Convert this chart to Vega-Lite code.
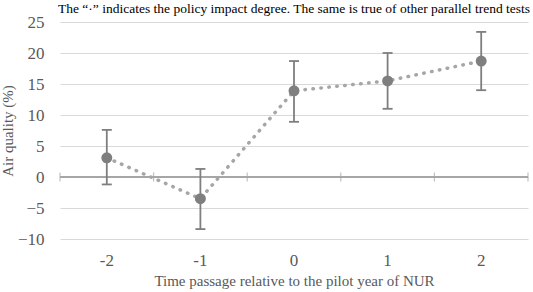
{
  "$schema": "https://vega.github.io/schema/vega-lite/v6.json",
  "autosize": "none",
  "padding": {"left": 60, "top": 22, "right": 5, "bottom": 53},
  "width": 468,
  "height": 217,
  "background": "white",
  "title": {
    "text": "The “·” indicates the policy impact degree.  The same is true of other parallel trend tests",
    "anchor": "start",
    "frame": "group",
    "font": "Liberation Serif",
    "fontSize": 13.5,
    "fontWeight": "normal",
    "color": "#000000",
    "offset": -2,
    "dx": -2
  },
  "config": {
    "view": {"stroke": null},
    "font": "Liberation Serif"
  },
  "data": {
    "values": [
      {"t": "-2", "est": 3.1, "lo": -1.2, "hi": 7.6},
      {"t": "-1", "est": -3.5, "lo": -8.4, "hi": 1.3},
      {"t": "0", "est": 13.9, "lo": 8.9, "hi": 18.7},
      {"t": "1", "est": 15.5, "lo": 11.0, "hi": 20.0},
      {"t": "2", "est": 18.7, "lo": 14.0, "hi": 23.4}
    ]
  },
  "encoding": {
    "x": {
      "field": "t", "type": "nominal", "sort": ["-2", "-1", "0", "1", "2"],
      "scale": {"paddingInner": 0, "paddingOuter": 0},
      "axis": {
        "title": "Time passage relative to the pilot year of NUR",
        "labelFont": "Liberation Serif", "labelFontSize": 17, "labelColor": "#595959", "labelAngle": 0, "labelPadding": 13,
        "titleFont": "Liberation Serif", "titleFontWeight": "normal", "titleFontSize": 15, "titleColor": "#595959", "titlePadding": 5,
        "domain": false, "ticks": false, "grid": false
      }
    },
    "y": {
      "field": "est", "type": "quantitative",
      "scale": {"domain": [-10, 25], "nice": false, "zero": false},
      "axis": {
        "title": "Air quality  (%)", "values": [-10, -5, 0, 5, 10, 15, 20, 25], "tickCount": 8,
        "labelOverlap": false, "labelFlush": false,
        "labelFont": "Liberation Serif", "labelFontSize": 17, "labelColor": "#595959", "labelPadding": 16,
        "titleFont": "Liberation Serif", "titleFontWeight": "normal", "titleFontSize": 15, "titleColor": "#595959", "titlePadding": 2,
        "domain": false, "ticks": false, "grid": true, "gridColor": "#d9d9d9", "gridWidth": 1
      }
    }
  },
  "layer": [
    {
      "mark": {"type": "rule", "color": "#a6a6a6", "strokeWidth": 1.5},
      "encoding": {
        "x": null,
        "y": {"datum": 0, "type": "quantitative"}
      }
    },
    {
      "mark": {"type": "tick", "orient": "vertical", "color": "#a6a6a6", "thickness": 1.2, "size": 9},
      "encoding": {
        "x": {"field": "t", "type": "nominal", "sort": ["-2", "-1", "0", "1", "2"], "bandPosition": 0},
        "y": {"datum": 0, "type": "quantitative"}
      }
    },
    {
      "transform": [{"filter": "datum.t === '2'"}],
      "mark": {"type": "tick", "orient": "vertical", "color": "#a6a6a6", "thickness": 1.2, "size": 9},
      "encoding": {
        "x": {"field": "t", "type": "nominal", "sort": ["-2", "-1", "0", "1", "2"], "bandPosition": 1},
        "y": {"datum": 0, "type": "quantitative"}
      }
    },
    {
      "mark": {"type": "line", "color": "#a6a6a6", "strokeWidth": 3.5, "strokeDash": [0.5, 7.5], "strokeCap": "round"}
    },
    {
      "mark": {"type": "rule", "color": "#7f7f7f", "strokeWidth": 1.8},
      "encoding": {
        "y": {"field": "lo", "type": "quantitative"},
        "y2": {"field": "hi"}
      }
    },
    {
      "mark": {"type": "tick", "orient": "horizontal", "color": "#7f7f7f", "thickness": 1.8, "size": 10, "opacity": 1},
      "encoding": {"y": {"field": "lo", "type": "quantitative"}}
    },
    {
      "mark": {"type": "tick", "orient": "horizontal", "color": "#7f7f7f", "thickness": 1.8, "size": 10, "opacity": 1},
      "encoding": {"y": {"field": "hi", "type": "quantitative"}}
    },
    {
      "mark": {"type": "circle", "color": "#7f7f7f", "size": 120, "opacity": 1}
    }
  ]
}
